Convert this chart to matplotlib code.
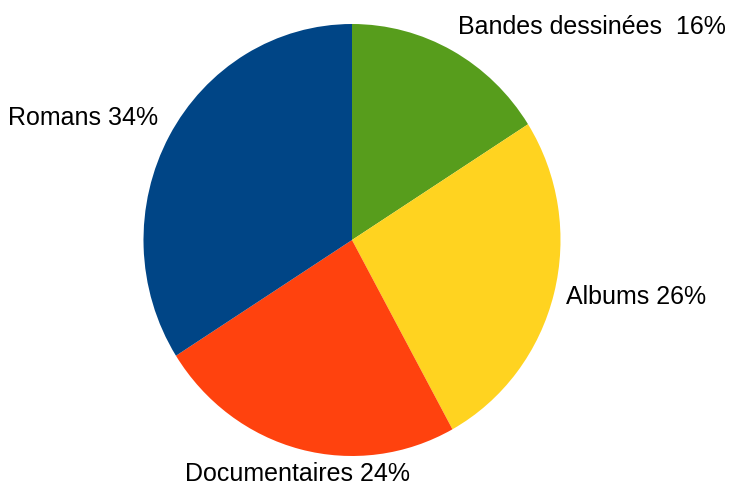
import numpy as np
import matplotlib
matplotlib.use('Agg')
import matplotlib.pyplot as plt

plt.rcParams['font.family'] = ['Liberation Sans', 'DejaVu Sans']

categories = ['Bandes dessinées ', 'Albums', 'Documentaires', 'Romans']
shares = [16, 26, 24, 34]
colors = ['#579d1c', '#ffd320', '#ff420e', '#004586']

W, H = 731, 486
RX, RY = 208.5, 216.0    # the pie is slightly taller than wide
cx, cy = 352.0, 240.0    # pie centre, pixels from top-left

fig = plt.figure(figsize=(W / 100, H / 100), dpi=100)
ax = fig.add_axes([0, 0, 1, 1])

wedges, _ = ax.pie(shares, colors=colors, startangle=90, counterclock=False,
                   radius=1.0, wedgeprops=dict(linewidth=0))

# pie() resets the limits, so set them afterwards
ax.set_xlim(-cx / RX, (W - cx) / RX)
ax.set_ylim(-(H - cy) / RY, cy / RY)
ax.set_aspect('auto')
ax.axis('off')

for w, name, val in zip(wedges, categories, shares):
    ang = np.deg2rad((w.theta1 + w.theta2) / 2)
    c, s = np.cos(ang), np.sin(ang)
    if abs(s) > 0.9:
        ha = 'center'
    else:
        ha = 'left' if c > 0 else 'right'
    if abs(s) > 0.9:
        va = 'bottom' if s > 0 else 'top'
    elif abs(c) > 0.9:
        va = 'center'
    else:
        va = 'bottom' if s > 0 else 'top'
    r = 1.06
    ax.text(r * c, r * s, f'{name} {val}%', ha=ha, va=va,
            fontsize=18, color='#000000')

fig.savefig('out.png', dpi=100)
